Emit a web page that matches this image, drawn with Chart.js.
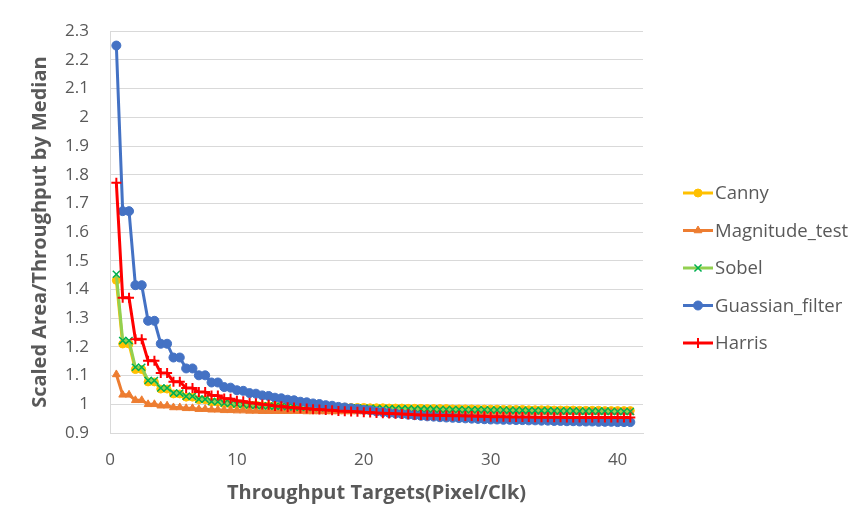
<!DOCTYPE html>
<html>
<head>
<meta charset="utf-8">
<script src="https://cdn.jsdelivr.net/npm/chart.js@4.4.1/dist/chart.umd.min.js"></script>
<style>
  html, body { margin: 0; padding: 0; background: #fff; }
  #wrap { width: 859px; height: 525px; }
</style>
</head>
<body>
<div id="wrap"><canvas id="chart" width="859" height="525"></canvas></div>
<script>
// throughput targets (Pixel/Clk)
const xValues = [0.5, 1, 1.5, 2, 2.5, 3, 3.5, 4, 4.5,
  5, 5.5, 6, 6.5, 7, 7.5, 8, 8.5, 9, 9.5,
  10, 10.5, 11, 11.5, 12, 12.5, 13, 13.5, 14, 14.5,
  15, 15.5, 16, 16.5, 17, 17.5, 18, 18.5, 19, 19.5,
  20, 20.5, 21, 21.5, 22, 22.5, 23, 23.5, 24, 24.5,
  25, 25.5, 26, 26.5, 27, 27.5, 28, 28.5, 29, 29.5,
  30, 30.5, 31, 31.5, 32, 32.5, 33, 33.5, 34, 34.5,
  35, 35.5, 36, 36.5, 37, 37.5, 38, 38.5, 39, 39.5,
  40, 40.5, 41];

const canny = [1.432, 1.21, 1.21, 1.121, 1.121, 1.078, 1.078, 1.053, 1.053,
  1.036, 1.036, 1.025, 1.025, 1.016, 1.016, 1.008, 1.007, 1.002, 1.001,
  0.999, 0.998, 0.997, 0.997, 0.995, 0.995, 0.994, 0.994, 0.993, 0.993,
  0.992, 0.992, 0.991, 0.991, 0.991, 0.99, 0.99, 0.99, 0.989, 0.989,
  0.989, 0.988, 0.988, 0.988, 0.987, 0.987, 0.987, 0.986, 0.986, 0.986,
  0.985, 0.985, 0.985, 0.985, 0.984, 0.984, 0.984, 0.984, 0.983, 0.983,
  0.983, 0.983, 0.982, 0.982, 0.982, 0.982, 0.981, 0.981, 0.981, 0.981,
  0.98, 0.98, 0.98, 0.98, 0.979, 0.979, 0.979, 0.979, 0.978, 0.978,
  0.978, 0.978, 0.978];

const magnitudeTest = [1.104, 1.033, 1.033, 1.014, 1.014, 1.0, 1.0, 0.995, 0.995,
  0.989, 0.989, 0.986, 0.986, 0.983, 0.983, 0.981, 0.981, 0.979, 0.979,
  0.978, 0.978, 0.977, 0.977, 0.976, 0.976, 0.976, 0.976, 0.976, 0.976,
  0.976, 0.975, 0.975, 0.975, 0.975, 0.975, 0.975, 0.975, 0.975, 0.975,
  0.975, 0.975, 0.975, 0.975, 0.974, 0.974, 0.974, 0.974, 0.974, 0.974,
  0.974, 0.974, 0.974, 0.974, 0.973, 0.973, 0.973, 0.973, 0.973, 0.973,
  0.973, 0.973, 0.973, 0.973, 0.973, 0.973, 0.972, 0.972, 0.972, 0.972,
  0.972, 0.972, 0.972, 0.972, 0.972, 0.972, 0.972, 0.972, 0.972, 0.972,
  0.972, 0.972, 0.972];

const sobel = [1.453, 1.222, 1.222, 1.129, 1.129, 1.083, 1.083, 1.057, 1.057,
  1.039, 1.039, 1.028, 1.028, 1.018, 1.018, 1.01, 1.009, 1.004, 1.003,
  1.0, 0.999, 0.997, 0.996, 0.995, 0.994, 0.993, 0.993, 0.992, 0.991,
  0.99, 0.99, 0.989, 0.989, 0.988, 0.988, 0.988, 0.987, 0.987, 0.987,
  0.986, 0.986, 0.985, 0.985, 0.985, 0.984, 0.984, 0.984, 0.983, 0.983,
  0.983, 0.983, 0.982, 0.982, 0.982, 0.982, 0.981, 0.981, 0.981, 0.981,
  0.98, 0.98, 0.98, 0.979, 0.979, 0.979, 0.978, 0.978, 0.978, 0.978,
  0.977, 0.977, 0.977, 0.977, 0.976, 0.976, 0.976, 0.976, 0.976, 0.975,
  0.975, 0.975, 0.975];

const guassianFilter = [2.25, 1.673, 1.673, 1.415, 1.415, 1.291, 1.291, 1.211, 1.211,
  1.163, 1.163, 1.125, 1.125, 1.101, 1.101, 1.076, 1.076, 1.06, 1.058,
  1.049, 1.047, 1.039, 1.037, 1.031, 1.029, 1.023, 1.021, 1.016, 1.014,
  1.009, 1.007, 1.003, 1.001, 0.997, 0.995, 0.991, 0.989, 0.986, 0.984,
  0.981, 0.979, 0.975, 0.973, 0.970, 0.968, 0.966, 0.964, 0.962, 0.96,
  0.958, 0.957, 0.955, 0.954, 0.953, 0.952, 0.951, 0.95, 0.949, 0.948,
  0.947, 0.947, 0.946, 0.946, 0.945, 0.945, 0.944, 0.944, 0.943, 0.943,
  0.942, 0.942, 0.941, 0.941, 0.94, 0.94, 0.94, 0.939, 0.939, 0.939,
  0.938, 0.938, 0.938];

const harris = [1.772, 1.371, 1.371, 1.227, 1.227, 1.152, 1.152, 1.109, 1.109,
  1.079, 1.079, 1.057, 1.057, 1.043, 1.043, 1.031, 1.031, 1.02, 1.019,
  1.012, 1.011, 1.005, 1.004, 0.999, 0.998, 0.994, 0.993, 0.99, 0.989,
  0.986, 0.985, 0.983, 0.982, 0.98, 0.979, 0.977, 0.976, 0.975, 0.974,
  0.972, 0.971, 0.97, 0.969, 0.968, 0.967, 0.966, 0.965, 0.964, 0.963,
  0.962, 0.962, 0.961, 0.961, 0.96, 0.96, 0.959, 0.959, 0.958, 0.958,
  0.957, 0.957, 0.957, 0.956, 0.956, 0.956, 0.956, 0.955, 0.955, 0.955,
  0.955, 0.955, 0.954, 0.954, 0.954, 0.954, 0.954, 0.954, 0.954, 0.954,
  0.954, 0.954, 0.954];

const seriesNames = ["Canny", "Magnitude_test", "Sobel", "Guassian_filter", "Harris"];
const yTicks = [0.9, 1, 1.1, 1.2, 1.3, 1.4, 1.5, 1.6, 1.7, 1.8, 1.9, 2, 2.1, 2.2, 2.3];
const xTicks = [0, 10, 20, 30, 40];

const FONT = "'Open Sans', Lato, sans-serif";
const GREY = "#595959";

function points(ys) {
  return ys.map(function (y, i) { return { x: xValues[i], y: y }; });
}

// legend drawn by hand: line + marker + name, like the spreadsheet legend
const sideLegend = {
  id: "sideLegend",
  afterDraw(chart) {
    const ctx = chart.ctx;
    const top = 193;
    const gap = 37.5;
    chart.data.datasets.forEach(function (ds, i) {
      const y = top + i * gap;
      ctx.save();
      ctx.strokeStyle = ds.borderColor;
      ctx.lineWidth = 3;
      ctx.beginPath();
      ctx.moveTo(683, y);
      ctx.lineTo(713, y);
      ctx.stroke();
      ctx.fillStyle = ds.pointBackgroundColor;
      ctx.strokeStyle = ds.pointBorderColor;
      ctx.lineWidth = ds.pointBorderWidth;
      Chart.helpers.drawPoint(ctx, {
        pointStyle: ds.pointStyle,
        radius: ds.pointRadius,
        rotation: 0,
        borderWidth: ds.pointBorderWidth
      }, 698, y);
      ctx.fillStyle = GREY;
      ctx.font = "18.5px " + FONT;
      ctx.textBaseline = "middle";
      ctx.fillText(ds.label, 715, y + 1);
      ctx.restore();
    });
  }
};

document.addEventListener("DOMContentLoaded", function () {
  const ctx = document.getElementById("chart").getContext("2d");

  new Chart(ctx, {
    type: "line",
    data: {
      datasets: [
        {
          label: seriesNames[0],
          data: points(canny),
          borderColor: "#FFC000",
          borderWidth: 3,
          pointStyle: "circle",
          pointRadius: 4,
          pointBackgroundColor: "#FFC000",
          pointBorderColor: "#FFC000",
          pointBorderWidth: 1,
          order: 4
        },
        {
          label: seriesNames[1],
          data: points(magnitudeTest),
          borderColor: "#ED7D31",
          borderWidth: 3,
          pointStyle: "triangle",
          pointRadius: 4.5,
          pointBackgroundColor: "#ED7D31",
          pointBorderColor: "#ED7D31",
          pointBorderWidth: 1,
          order: 3
        },
        {
          label: seriesNames[2],
          data: points(sobel),
          borderColor: "#92D050",
          borderWidth: 3,
          pointStyle: "crossRot",
          pointRadius: 5,
          pointBackgroundColor: "#00B050",
          pointBorderColor: "#00B050",
          pointBorderWidth: 1.5,
          order: 2
        },
        {
          label: seriesNames[3],
          data: points(guassianFilter),
          borderColor: "#4472C4",
          borderWidth: 3,
          pointStyle: "circle",
          pointRadius: 4.5,
          pointBackgroundColor: "#4472C4",
          pointBorderColor: "#4472C4",
          pointBorderWidth: 1,
          order: 1
        },
        {
          label: seriesNames[4],
          data: points(harris),
          borderColor: "#FF0000",
          borderWidth: 3,
          pointStyle: "cross",
          pointRadius: 5,
          pointBackgroundColor: "#FF0000",
          pointBorderColor: "#FF0000",
          pointBorderWidth: 2,
          order: 0
        }
      ]
    },
    options: {
      responsive: false,
      animation: false,
      devicePixelRatio: 1,
      layout: { padding: { top: 27, right: 216, bottom: 0, left: 0 } },
      plugins: {
        legend: { display: false },
        tooltip: { enabled: false }
      },
      elements: { line: { tension: 0 } },
      scales: {
        x: {
          type: "linear",
          min: 0,
          max: 42,
          afterFit(scale) { scale.height = 92; },
          afterBuildTicks(scale) {
            scale.ticks = xTicks.map(function (v) { return { value: v }; });
          },
          grid: { display: false, drawTicks: false },
          border: { display: true, color: "#D9D9D9", width: 1 },
          ticks: {
            padding: 17,
            color: GREY,
            font: { family: FONT, size: 17 }
          },
          title: {
            display: true,
            text: "Throughput Targets(Pixel/Clk)",
            color: GREY,
            font: { family: FONT, size: 20, weight: "bold" },
            padding: { top: 0, bottom: 20 }
          }
        },
        y: {
          min: 0.9,
          max: 2.3,
          afterFit(scale) { scale.width = 110; },
          afterBuildTicks(scale) {
            scale.ticks = yTicks.map(function (v) { return { value: v }; });
          },
          grid: { color: "#D9D9D9", lineWidth: 1, drawTicks: false },
          border: { display: true, color: "#D9D9D9", width: 1 },
          ticks: {
            padding: 21,
            color: GREY,
            font: { family: FONT, size: 17 },
            callback: function (v) { return String(+v.toFixed(1)); }
          },
          title: {
            display: true,
            text: "Scaled Area/Throughput by Median",
            color: GREY,
            font: { family: FONT, size: 20, weight: "bold" },
            padding: { top: 28, bottom: 0 }
          }
        }
      }
    },
    plugins: [sideLegend]
  });
});
</script>
</body>
</html>
